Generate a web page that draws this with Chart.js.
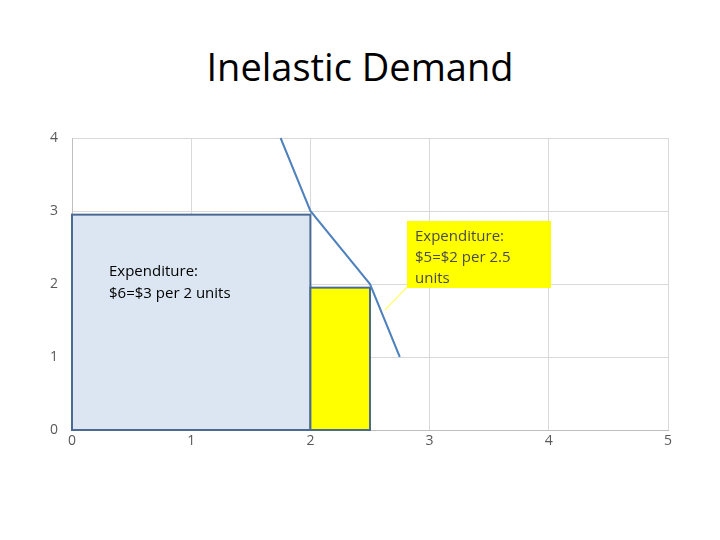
<!DOCTYPE html>
<html><head><meta charset="utf-8">
<script src="https://cdn.jsdelivr.net/npm/chart.js@4/dist/chart.umd.min.js"></script>
<style>body{margin:0;background:#fff}#t{position:absolute;left:0;top:40px;width:720px;text-align:center;font:38px "Open Sans",sans-serif;color:#000}canvas{position:absolute;left:0;top:0}</style>
</head><body>
<div id="t">Inelastic Demand</div>
<canvas id="c" width="720" height="540"></canvas>
<script>
const demandX=[1.75,2,2.5,2.75];
const demandY=[4,3,2,1];
const rectBlue=[0,2,2.95];   // x0,x1,height
const rectYellow=[2,2.5,1.95];
const blueLabel=["Expenditure:","$6=$3 per 2 units"];
const calloutLabel=["Expenditure:","$5=$2 per 2.5","units"];
const xTicks=[0,1,2,3,4,5];
const yTicks=[0,1,2,3,4];

const rects={id:'rects',beforeDatasetsDraw(ch){
  const c=ch.ctx,x=ch.scales.x,y=ch.scales.y;
  function r(a,fill){const l=x.getPixelForValue(a[0]),rr=x.getPixelForValue(a[1]),t=y.getPixelForValue(a[2]),b=y.getPixelForValue(0);
    c.save();c.fillStyle=fill;c.fillRect(l,t,rr-l,b-t);c.strokeStyle='#4a6a94';c.lineWidth=2;c.strokeRect(l,t,rr-l,b-t);c.restore();}
  r(rectBlue,'#dce6f2');r(rectYellow,'#ffff00');
  c.save();c.fillStyle='#000';c.font='15px "Open Sans",sans-serif';c.textBaseline='middle';
  c.fillText(blueLabel[0],109,272);c.fillText(blueLabel[1],109,294);
  // callout
  c.strokeStyle='#ffff80';c.lineWidth=1.5;c.beginPath();c.moveTo(385,310);c.lineTo(410,284);c.stroke();
  c.fillStyle='#ffff00';c.fillRect(407,221,144,67);
  c.fillStyle='#4a4a4a';c.font='15px "Open Sans",sans-serif';
  calloutLabel.forEach((s,i)=>c.fillText(s,415,237+i*21));
  c.restore();
}};

new Chart(document.getElementById('c'),{type:'scatter',
 data:{datasets:[{data:demandX.map((v,i)=>({x:v,y:demandY[i]})),showLine:true,borderColor:'#4f81bd',borderWidth:2,pointRadius:0,clip:false}]},
 options:{responsive:false,animation:false,
  layout:{padding:{left:32,right:52,top:138,bottom:70}},
  plugins:{legend:{display:false},tooltip:{enabled:false}},
  scales:{
   x:{type:'linear',min:0,max:5,afterFit(s){s.height=40},ticks:{stepSize:1,color:'#595959',font:{size:14,family:'"Open Sans"'}},grid:{color:'#d9d9d9',drawTicks:false},border:{color:'#bfbfbf'}},
   y:{type:'linear',min:0,max:4,afterFit(s){s.width=40},ticks:{stepSize:1,color:'#595959',padding:14,font:{size:14,family:'"Open Sans"'}},grid:{color:'#d9d9d9',drawTicks:false},border:{color:'#bfbfbf'}}
  }},
 plugins:[rects]});
</script>
</body></html>
